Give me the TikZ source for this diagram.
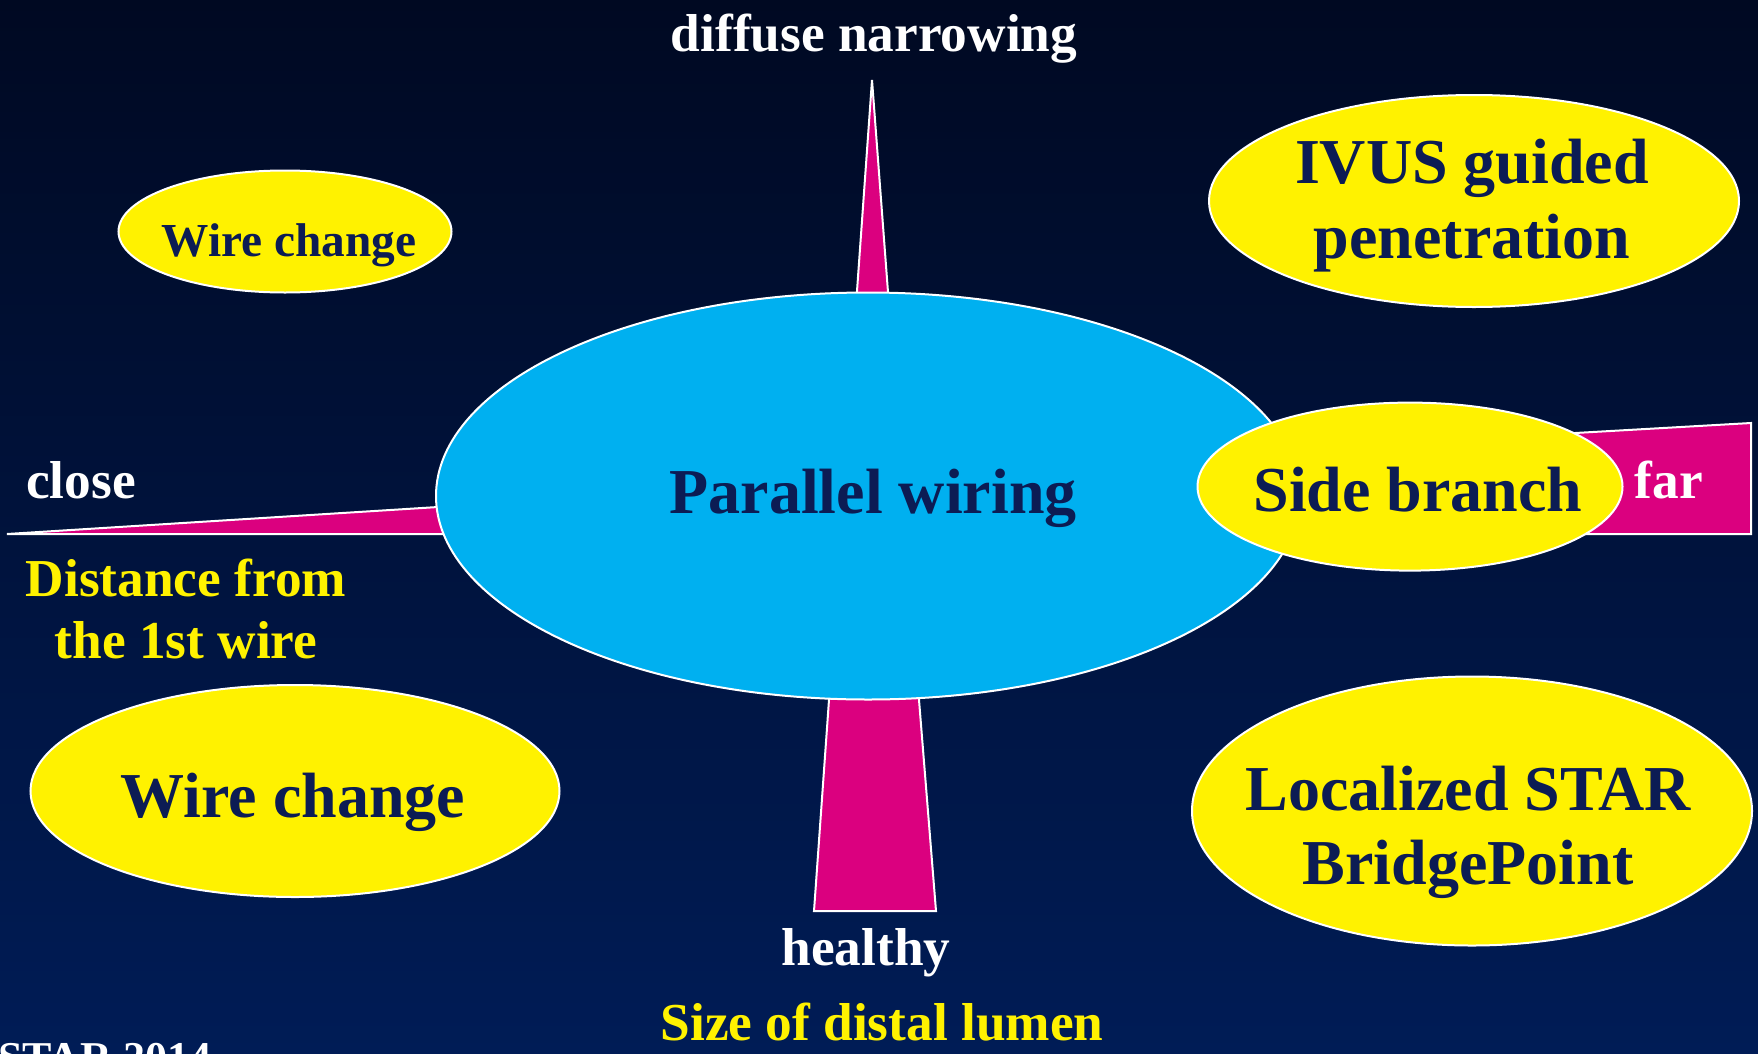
\documentclass[tikz,border=0pt]{standalone}
\usepackage{fontspec}
\setmainfont{Liberation Serif}
\usetikzlibrary{shapes.geometric}

\definecolor{bgtop}{RGB}{0,9,34}
\definecolor{bgbottom}{RGB}{0,28,86}
\definecolor{spikepink}{RGB}{219,0,127}
\definecolor{lumencyan}{RGB}{0,176,240}
\definecolor{navytext}{RGB}{12,28,84}

\tikzset{every picture/.style={line width=0.75pt}}
\tikzset{
  spike/.style={draw=white, line width=1.5pt, fill=spikepink},
  lumenbox/.style={ellipse, draw=white, line width=1.5pt, fill=lumencyan, inner sep=0pt},
  bubble/.style={ellipse, draw=white, line width=1.5pt, fill=yellow, inner sep=0pt},
  bigtxt/.style={font=\fontsize{48}{56}\selectfont\bfseries, text=navytext, align=center},
  midtxt/.style={font=\fontsize{35.5}{42}\selectfont\bfseries, text=navytext, align=center},
  whitetxt/.style={font=\fontsize{40}{47}\selectfont\bfseries, text=white, align=center},
  yellowtxt/.style={font=\fontsize{40}{47}\selectfont\bfseries, text=yellow, align=center}
}

\begin{document}
\begin{tikzpicture}[x=0.75pt,y=0.75pt,yscale=-1,xscale=1]
	\path[use as bounding box] (0,0) rectangle (1758,1053);
	\clip (0,0) rectangle (1758,1053);

	%Background
	\shade[top color=bgtop, bottom color=bgbottom] (0,0) rectangle (1758,1053);

	%Spikes behind the lumen
	\draw[spike] (7,534) -- (470,505) -- (470,534) -- cycle;
	\draw[spike] (872,80) -- (889.5,312) -- (855.5,312) -- cycle;
	\draw[spike] (830.4,680) -- (917.4,680) -- (936,911) -- (814,911) -- cycle;
	\draw[spike] (1250,451.5) -- (1751,423) -- (1751,534) -- (1250,534) -- cycle;

	%Ellipses
	\node[lumenbox, minimum width=648pt, minimum height=305.25pt] (wiring) at (868,496) {};
	\node[bubble, minimum width=318.75pt, minimum height=126pt] (branch) at (1410,486.6) {};
	\node[bubble, minimum width=249.75pt, minimum height=91.5pt] (wirea) at (285,231.5) {};
	\node[bubble, minimum width=396.75pt, minimum height=159pt] (wireb) at (295,791) {};
	\node[bubble, minimum width=397.5pt, minimum height=159pt] (ivus) at (1474,201) {};
	\node[bubble, minimum width=420pt, minimum height=201.75pt] (star) at (1472,811) {};

	% Text Node
	\node[bigtxt] (wiringtxt) at (873,498) {Parallel wiring};
	\node[bigtxt] (branchtxt) at (1418,490) {Side branch};
	\node[bigtxt] (ivustxt) at (1472,205.5) {IVUS guided\\penetration};
	\node[bigtxt] (startxt) at (1468,832.5) {Localized STAR\\BridgePoint};
	\node[bigtxt] (wirebtxt) at (293,802.5) {Wire change};
	\node[midtxt] (wireatxt) at (289,245.5) {Wire change};

	% Text Node
	\node[whitetxt] (diffuse) at (874,38.5) {diffuse narrowing};
	\node[whitetxt] (close) at (81,480) {close};
	\node[whitetxt] (far) at (1669,480) {far};
	\node[whitetxt] (healthy) at (866,953) {healthy};
	\node[yellowtxt] (distance) at (186,609) {Distance from\\the 1st wire};
	\node[yellowtxt] (lumen) at (882,1022.5) {Size of distal lumen};
	\node[whitetxt, font=\fontsize{33}{40}\selectfont\bfseries, anchor=base east, inner sep=0pt] (meeting) at (212,1072) {STAR 2014};

\end{tikzpicture}
\end{document}
